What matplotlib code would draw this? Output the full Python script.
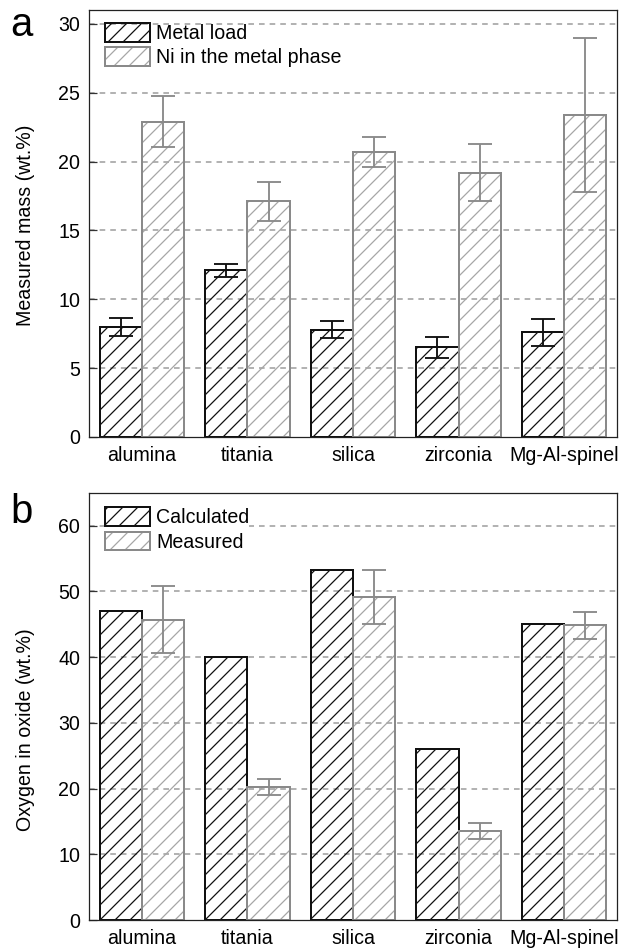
import numpy as np
import matplotlib
matplotlib.use("Agg")
import matplotlib.pyplot as plt
from matplotlib.legend_handler import HandlerTuple

# data
supports = ["alumina", "titania", "silica", "zirconia", "Mg-Al-spinel"]

metal_load = [8.0, 12.1, 7.8, 6.5, 7.6]
metal_load_err = [0.65, 0.45, 0.6, 0.75, 1.0]
ni_metal = [22.9, 17.1, 20.7, 19.2, 23.4]
ni_metal_err = [1.85, 1.4, 1.1, 2.1, 5.6]

oxy_calc = [47.0, 40.0, 53.2, 26.0, 45.0]
oxy_meas = [45.7, 20.2, 49.2, 13.5, 44.8]
oxy_meas_err = [5.15, 1.25, 4.1, 1.25, 2.05]

DPI = 90
plt.rcParams['font.family'] = ['Liberation Sans', 'DejaVu Sans']
plt.rcParams['hatch.linewidth'] = 1.0
plt.rcParams['lines.scale_dashes'] = False

BLACK = '#111111'
GRAY_EDGE = '#8a8a8a'
GRAY_HATCH = '#a6a6a6'
FS = 15.7

fig = plt.figure(figsize=(621 / DPI, 951 / DPI), dpi=DPI)
W, H = 621.0, 951.0
left, width = 89 / W, 528 / W
ax_a = fig.add_axes([left, 1 - 437 / H, width, 427 / H])
ax_b = fig.add_axes([left, 1 - 920 / H, width, 427.3 / H])

x = np.arange(len(supports))
bw = 0.4


def draw_panel(ax, v1, e1, v2, e2, labels, ymax, ticks, ylabel, label_y,
               leg_top_px, leg_frame):
    # gridlines
    for t in ticks[1:]:
        ax.axhline(t, color='#9a9a9a', lw=1.2, ls=(0, (4.5, 4)), zorder=0.5)
    b1 = ax.bar(x - bw / 2, v1, bw, facecolor='none', edgecolor=BLACK,
                hatch='//', lw=1.6, zorder=2)
    b2h = ax.bar(x + bw / 2, v2, bw, facecolor='none', edgecolor=GRAY_HATCH,
                 hatch='//', lw=0, zorder=2)
    b2e = ax.bar(x + bw / 2, v2, bw, facecolor='none', edgecolor=GRAY_EDGE,
                 lw=1.6, zorder=2.1)
    if e1 is not None:
        ax.errorbar(x - bw / 2, v1, yerr=e1, fmt='none', ecolor=BLACK,
                    elinewidth=1.5, capsize=9.5, capthick=1.5, zorder=3)
    ax.errorbar(x + bw / 2, v2, yerr=e2, fmt='none', ecolor=GRAY_EDGE,
                elinewidth=1.5, capsize=9.5, capthick=1.5, zorder=3)

    ax.set_xlim(-0.5, len(supports) - 0.5)
    ax.set_ylim(0, ymax)
    ax.set_yticks(ticks)
    ax.set_xticks(x)
    ax.set_xticklabels(supports, fontsize=FS)
    ax.tick_params(axis='x', length=0, pad=7)
    ax.tick_params(axis='y', direction='in', length=6.4, width=1.0,
                   color='#333333', labelsize=FS, pad=7)
    for s in ax.spines.values():
        s.set_linewidth(1.0)
        s.set_color('#222222')
    ax.set_ylabel(ylabel, fontsize=FS)
    ax.yaxis.set_label_coords((35 - 89) / 528, label_y)

    ax_h = ax.get_position().height * H
    leg = ax.legend([b1, (b2h, b2e)], labels, loc='upper left',
                    bbox_to_anchor=(16 / 528, 1 - leg_top_px / ax_h),
                    handler_map={tuple: HandlerTuple(ndivide=1)},
                    fontsize=FS, frameon=leg_frame, fancybox=False,
                    borderpad=0, borderaxespad=0, handlelength=2.3,
                    handleheight=1.08, handletextpad=0.3, labelspacing=0.22)
    if leg_frame:
        leg.get_frame().set_facecolor('white')
        leg.get_frame().set_edgecolor('none')
        leg.get_frame().set_alpha(1)
    leg.set_zorder(5)


draw_panel(ax_a, metal_load, metal_load_err, ni_metal, ni_metal_err,
           ["Metal load", "Ni in the metal phase"], 31,
           [0, 5, 10, 15, 20, 25, 30], "Measured mass (wt.%)", 0.495, 13.0,
           False)
draw_panel(ax_b, oxy_calc, None, oxy_meas, oxy_meas_err,
           ["Calculated", "Measured"], 65,
           [0, 10, 20, 30, 40, 50, 60], "Oxygen in oxide (wt.%)", 0.445, 14.6,
           True)

fig.text(10 / W, 1 - 36 / H, "a", fontsize=32, va='baseline', ha='left')
fig.text(10 / W, 1 - 523 / H, "b", fontsize=32, va='baseline', ha='left')

fig.savefig("out.png", dpi=DPI)
